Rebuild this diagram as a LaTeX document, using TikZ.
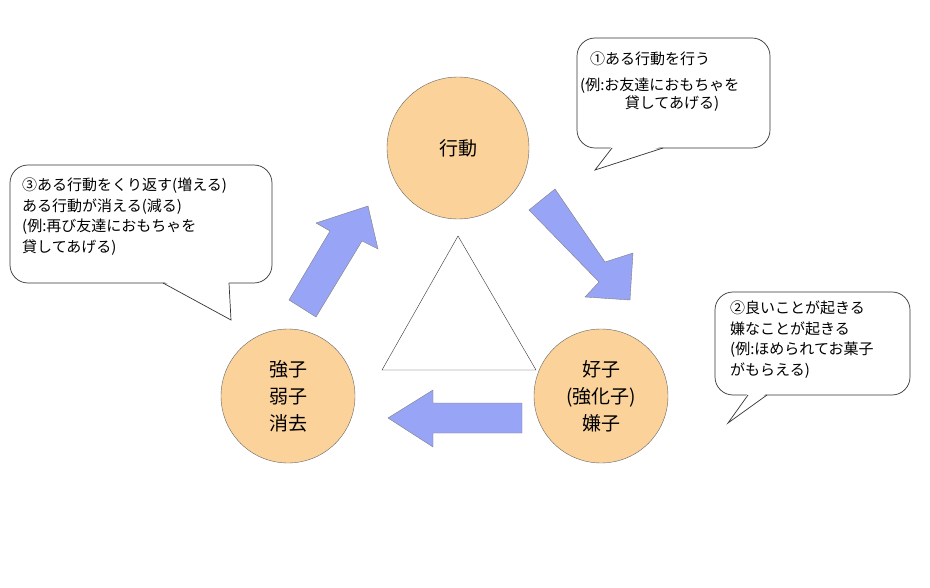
\documentclass[tikz,border=0pt]{standalone}
\usepackage{fontspec}
\newfontfamily\cjk{Noto Sans CJK JP}
\begin{document}
\begin{tikzpicture}[x=1pt,y=-1pt,
  circ/.style={circle,draw=black!60,fill=circfill,minimum size=#1,inner sep=0pt,font=\cjk\fontsize{19}{27}\selectfont,align=center},
  barrow/.style={draw=black!50,fill=arrowfill,line join=miter},
  bubble/.style={draw=black!80,fill=white,line width=0.7pt,rounded corners=18pt},
  ptr/.style={draw=black!80,line width=0.7pt},
  txt/.style={font=\cjk\fontsize{15}{20.5}\selectfont,align=left,inner sep=0pt,anchor=north west}]
\definecolor{circfill}{HTML}{FAD29A}
\definecolor{arrowfill}{HTML}{98A4F6}
\useasboundingbox (0,0) rectangle (930,588);
\fill[white] (0,0) rectangle (930,588);
% circles
\node[circ=142pt] (act) at (458,148) {行動};
\node[circ=134pt] (good) at (601,396) {好子\\(強化子)\\嫌子};
\node[circ=134pt] (str) at (288,396) {強子\\弱子\\消去};
% triangle
\coordinate (ta) at (458,236); \coordinate (tb) at (382,370); \coordinate (tc) at (536,370);
\draw[black!80,fill=white] (ta) -- (tb) -- (tc) -- cycle;
% block arrows
\draw[barrow] (289,300) -- (330,231) -- (316,223) -- (368,206) -- (378,249) -- (362,241) -- (316,317) -- cycle;
\draw[barrow] (555,189) -- (605,262) -- (633,253) -- (630,300) -- (585,297) -- (599,282) -- (529,210) -- cycle;
\draw[barrow] (522,403) -- (433,403) -- (433,390) -- (388,418) -- (433,447) -- (433,433) -- (522,433) -- cycle;
% callouts
\draw[bubble] (577,38) rectangle (770,148);
\fill[white] (612,146) -- (595,170) -- (663,146) -- cycle;
\draw[ptr] (612,148) -- (595,170) -- (663,148);
\draw[bubble] (10,165) rectangle (272,283);
\fill[white] (163,281) -- (231,320) -- (229,281) -- cycle;
\draw[ptr] (163,283) -- (231,320) -- (229,283);
\draw[bubble] (715,292) rectangle (910,395);
\fill[white] (748,393) -- (728,423) -- (767,393) -- cycle;
\draw[ptr] (748,395) -- (728,423) -- (767,395);
% callout texts
\node[txt] (c1a) at (590,52) {①ある行動を行う};
\node[txt] (c1b) at (580,78) {(例:お友達におもちゃを};
\node[txt,anchor=north] (c1c) at (672,96) {貸してあげる)};
\node[txt] (c3) at (22,178) {③ある行動をくり返す(増える)\\ある行動が消える(減る)\\(例:再び友達におもちゃを\\貸してあげる)};
\node[txt] (c2) at (730,301) {②良いことが起きる\\嫌なことが起きる\\(例:ほめられてお菓子\\がもらえる)};
\end{tikzpicture}
\end{document}
